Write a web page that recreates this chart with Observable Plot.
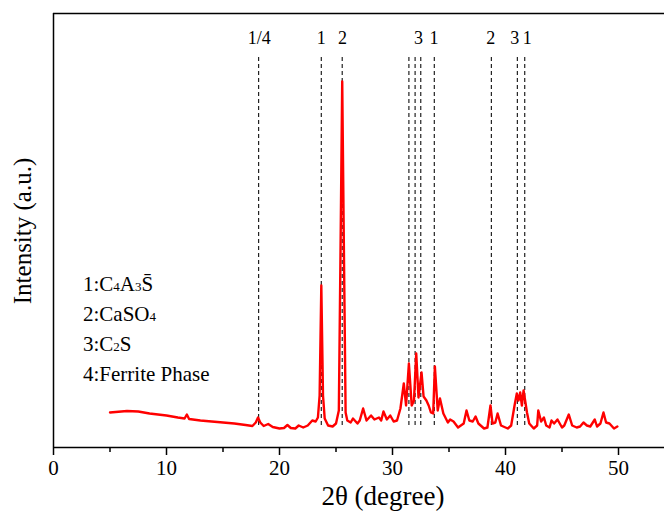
<!DOCTYPE html>
<html>
<head>
<meta charset="utf-8">
<script src="https://cdn.jsdelivr.net/npm/d3@7"></script>
<script src="https://cdn.jsdelivr.net/npm/@observablehq/plot@0.6"></script>
<style>
  body { margin: 0; background: #fff; }
  svg, svg text, svg tspan { font-family: 'Liberation Serif', 'Times New Roman', serif !important; }
</style>
</head>
<body>
<div id="chart"></div>
<script>
// 2θ positions (degree) and intensities (a.u.)
const twoTheta = [5.0,5.5,6.5,7.5,8.5,10,11,11.6,11.8,12.0,13,14,15,16,17,17.6,17.9,18.1,18.3,18.6,19.0,19.4,20.0,20.4,20.7,21.0,21.4,21.7,22.1,22.5,22.9,23.2,23.4,23.55,23.7,23.85,24.0,24.3,24.7,25.0,25.25,25.4,25.55,25.7,25.85,26.0,26.3,26.5,26.9,27.1,27.4,27.7,28.1,28.4,28.8,29.0,29.2,29.5,29.8,30.1,30.4,30.7,31.0,31.2,31.45,31.7,31.9,32.1,32.3,32.57,32.75,33.0,33.2,33.4,33.6,33.75,34.0,34.2,34.5,34.9,35.1,35.4,35.8,36.3,36.55,36.8,37.1,37.35,37.6,38.1,38.4,38.67,38.85,39.1,39.3,39.6,40.2,40.5,40.8,41.0,41.15,41.3,41.45,41.6,41.9,42.1,42.5,42.8,42.9,43.15,43.4,43.6,43.9,44.07,44.3,44.6,45.0,45.2,45.6,45.9,46.3,46.6,46.9,47.2,47.5,47.9,48.1,48.4,48.67,48.9,49.2,49.6,49.9];
const intensity = [35,35.5,36.5,36,34,32,30,29,33,28.5,27,26,25,24,22.5,21.5,25,30,25,21.5,23.5,20.5,19,19.5,22.5,19.5,19,22,20,22,27,26,30,52,162,52,29,22,21,24,37,197,366,197,35,27,25,29,24,27,39,27,32,28,30,27,36,28,32,26,27,39,64,42,84,42,47,94,50,75,51,47,42,35,34,81,37,49,34,25,28,26,20,24,37,27,26,31,24,19,20,42,24,25,34,22,19,22,42,54,47,55,42,57,35,24,19,22,37,26,30,22,20,27,24,28,20,22,33,22,20,21,25,22,21,28,21,24,35,25,24,19,21];

// phase reference lines
const peakLines = [18.15, 23.7, 25.55, 31.45, 32.0, 32.5, 33.7, 38.75, 41.05, 41.7];
const peakLabelX = [18.2, 23.69, 25.58, 32.3, 33.68, 38.7, 40.82, 41.92];
const peakLabelText = ["1/4", "1", "2", "3", "1", "2", "3", "1"];

const majorTicks = [0, 10, 20, 30, 40, 50];
const minorTicks = [5, 15, 25, 35, 45];

const legendLines = [
  [["1:C", 0], ["4", 1], ["A", 0], ["3", 1], ["S\u0304", 0]],
  [["2:CaSO", 0], ["4", 1]],
  [["3:C", 0], ["2", 1], ["S", 0]],
  [["4:Ferrite Phase", 0]]
];

const data = twoTheta.map((x, i) => ({x, y: intensity[i]}));
const peaks = peakLines.map(x => ({x}));
const labels = peakLabelX.map((x, i) => ({x, t: peakLabelText[i]}));

const W = 664, H = 511;
const chart = Plot.plot({
  width: W, height: H,
  marginLeft: 53, marginRight: 0, marginTop: 13, marginBottom: 64,
  x: {domain: [0, 54.07]},
  y: {domain: [0, 434]},
  style: {color: "#000", background: "#fff"},
  marks: [
    Plot.ruleX(peaks, {x: "x", y1: 22, y2: 390, stroke: "#222", strokeWidth: 1.2, strokeDasharray: "4,3"}),
    Plot.line(data, {x: "x", y: "y", stroke: "#ff0000", strokeWidth: 2.4, strokeLinejoin: "round"}),
    Plot.text(labels, {x: "x", y: 409, text: "t", fontSize: 18, fill: "#000"}),
    Plot.axisX(minorTicks, {tickSize: 5, text: null, strokeWidth: 1.5, label: null}),
    Plot.axisX(majorTicks, {tickSize: 8, tickPadding: 5, fontSize: 21, strokeWidth: 1.5, label: null}),
    Plot.axisY([], {label: null}),
    Plot.ruleY([0], {stroke: "#000", strokeWidth: 1.5}),
    Plot.ruleY([434], {stroke: "#000", strokeWidth: 1.5}),
    Plot.ruleX([0], {stroke: "#000", strokeWidth: 1.5})
  ]
});

const svg = d3.select(chart);
// axis titles
svg.append("text").attr("x", 383).attr("y", 505).attr("text-anchor", "middle")
  .attr("font-size", 27).attr("fill", "#000").text("2θ (degree)");
svg.append("text").attr("transform", "translate(31,231) rotate(-90)").attr("text-anchor", "middle")
  .attr("font-size", 25).attr("fill", "#000").text("Intensity (a.u.)");

// legend
const lg = svg.append("g").attr("font-size", 21).attr("fill", "#000").attr("text-anchor", "start");
legendLines.forEach((parts, i) => {
  const t = lg.append("text").attr("x", 83).attr("y", 291 + i * 30);
  parts.forEach(([s, sub]) => {
    const ts = t.append("tspan").text(s);
    if (sub) ts.attr("font-size", 13);
  });
});

svg.attr("font-family", "Liberation Serif");
svg.selectAll("text").attr("font-family", "Liberation Serif");

document.getElementById("chart").appendChild(chart);
</script>
</body>
</html>
